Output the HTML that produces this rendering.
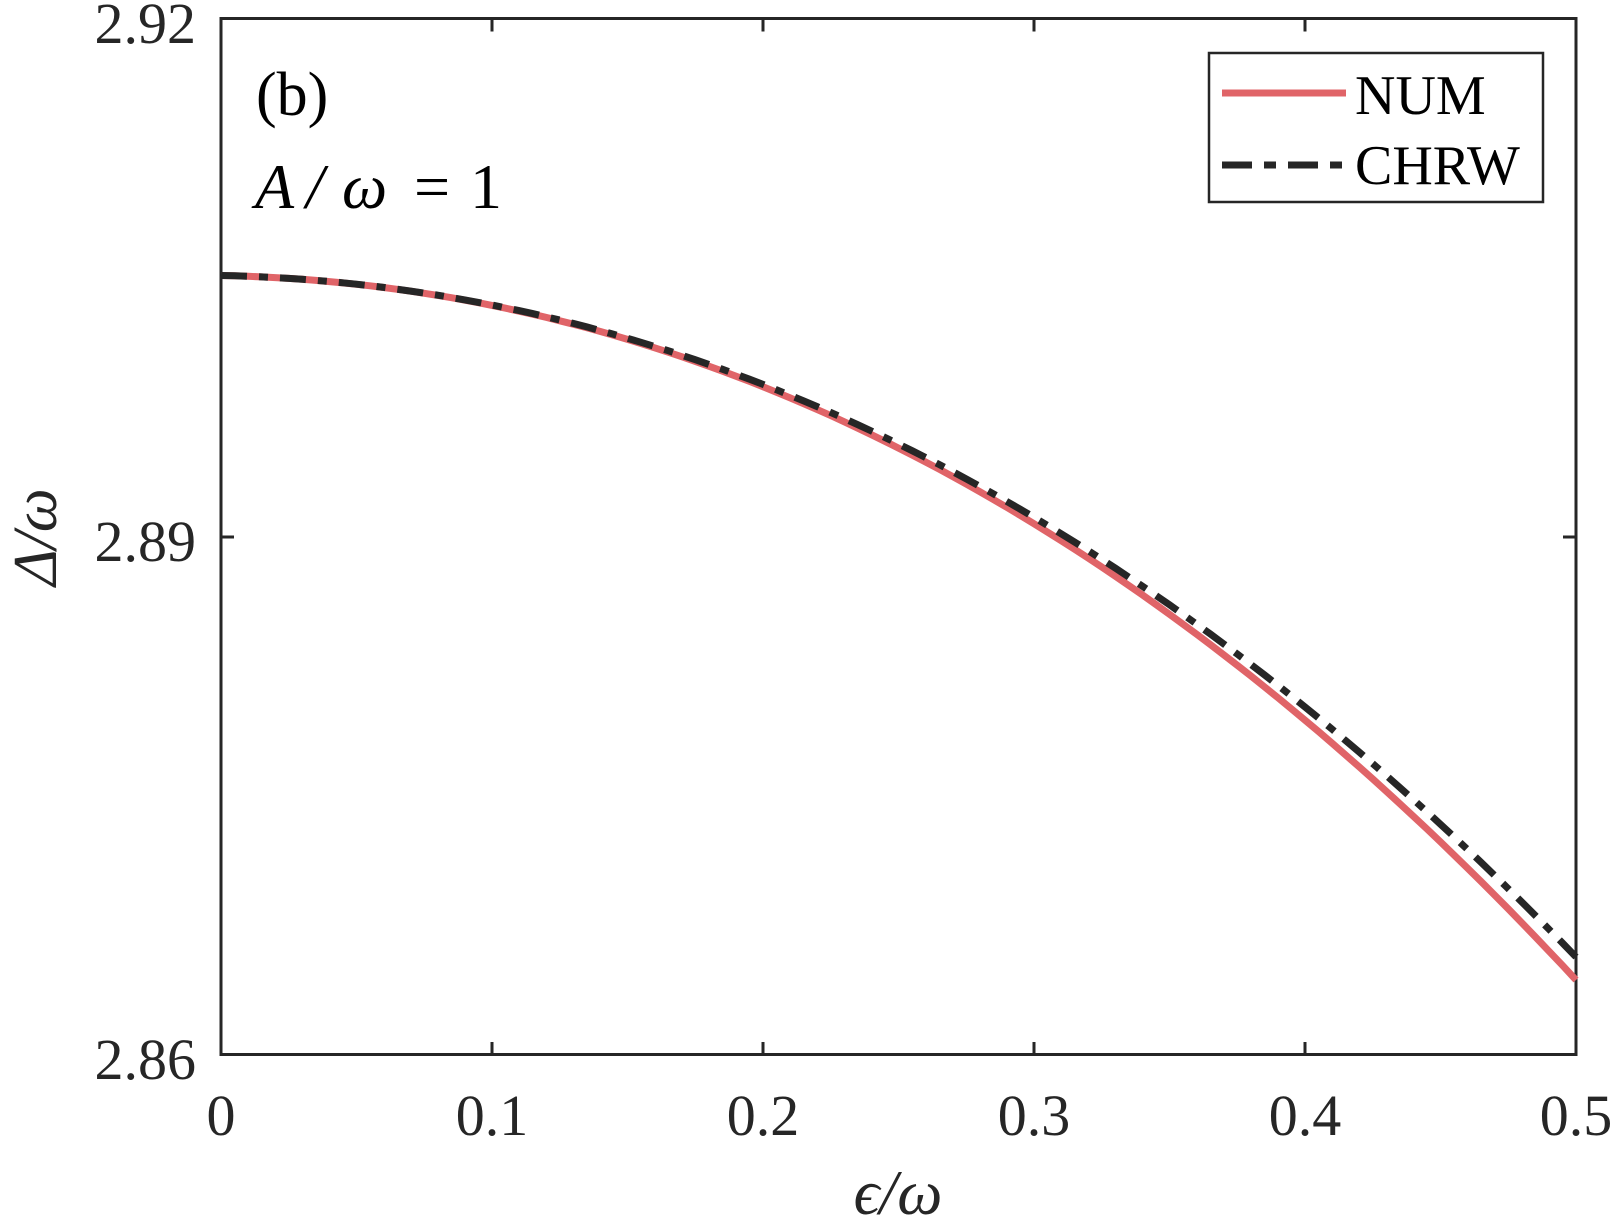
<!DOCTYPE html>
<html><head><meta charset="utf-8"><style>body{margin:0;background:#fff}</style></head><body>
<svg id="s" width="1612" height="1227" xmlns="http://www.w3.org/2000/svg" font-family="Liberation Serif, serif">
<rect width="1612" height="1227" fill="#fff"/>
<g stroke="#262626" stroke-width="3" fill="none">
<rect x="221" y="18.5" width="1355" height="1036"/>
<path d="M492 1055v-13M763 1055v-13M1034 1055v-13M1305 1055v-13M492 18.5v13M763 18.5v13M1034 18.5v13M1305 18.5v13M221 537h13M1576 537h-13"/>
</g>
<g font-size="58" fill="#262626" text-anchor="end">
<text x="196" y="43">2.92</text>
<text x="196" y="561">2.89</text>
<text x="196" y="1079">2.86</text>
</g>
<g font-size="58" fill="#262626" text-anchor="middle">
<text x="221" y="1135">0</text>
<text x="492" y="1135">0.1</text>
<text x="763" y="1135">0.2</text>
<text x="1034" y="1135">0.3</text>
<text x="1305" y="1135">0.4</text>
<text x="1576" y="1135">0.5</text>
</g>
<text x="898" y="1214" font-size="64" font-style="italic" text-anchor="middle" fill="#262626">ϵ/ω</text>
<text transform="translate(56,537) rotate(-90)" font-size="62" font-style="italic" text-anchor="middle" fill="#262626">Δ/ω</text>
<text x="256" y="115" font-size="62" fill="#000">(b)</text>
<g font-size="64" fill="#000">
<text x="255" y="208" font-style="italic">A</text>
<text x="306" y="208" font-style="italic">/</text>
<text x="342" y="208" font-style="italic">ω</text>
<text x="414" y="208">=</text>
<text x="470" y="208">1</text>
</g>
<path id="num" fill="none" stroke="#e06468" stroke-width="7"/>
<path id="chrw" fill="none" stroke="#262626" stroke-width="7" stroke-dasharray="26 12 9 12"/>
<rect x="1209" y="53" width="334" height="149" fill="#fff" stroke="#262626" stroke-width="2.5"/>
<line x1="1222" y1="93" x2="1346" y2="93" stroke="#e06468" stroke-width="7"/>
<line x1="1222" y1="165" x2="1346" y2="165" stroke="#262626" stroke-width="7" stroke-dasharray="30 12 12 12"/>
<text x="1355" y="114" font-size="56" fill="#000">NUM</text>
<text x="1355" y="184" font-size="56" fill="#000">CHRW</text>
</svg>
<script>
function f(t){return 275.5+28.3*t+581.5*t*t+71.7*t*t*t;}
var a="",b="";
for(var i=0;i<=100;i++){var t=i/100,x=221+1355*t,yc=f(t),yn=yc+23*Math.pow(t,2.5);
a+=(i?"L":"M")+x.toFixed(1)+" "+yn.toFixed(1);b+=(i?"L":"M")+x.toFixed(1)+" "+yc.toFixed(1);}
document.getElementById("num").setAttribute("d",a);
document.getElementById("chrw").setAttribute("d",b);
</script>
</body></html>
